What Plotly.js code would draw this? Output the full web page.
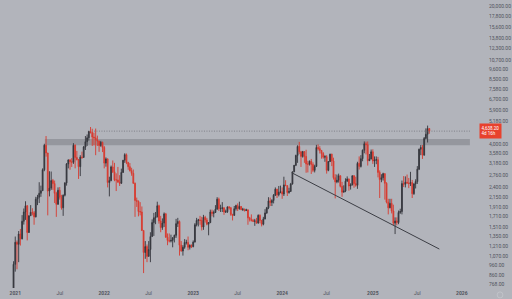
<!DOCTYPE html>
<html><head><meta charset="utf-8">
<script src="https://cdn.plot.ly/plotly-3.0.1.min.js"></script>
<style>html,body{margin:0;padding:0;background:#b2b4bb;}#chart{width:512px;height:299px;}</style>
</head><body><div id="chart"></div>
<script>
// ---- weekly candles (week start Monday), first week = 2020-12-28 ----
const firstWeek = '2020-12-28';
const open2021  = [731,975,1262,1232,1390,1314,1614,1800,1935,1416,1723,1793,1782,1700,2090,2140,2240,2310,2950,3930,3590,2300,2380,2600,2510,2240,1970,2320,2140,1890,2190,2530,3160,3310,3240,3220,3930,3410,3330,3060,3420,3410,3850,4100,4290,4620,4570,4330,4290,4190,4130,3920,4070];
const high2021  = [1011,1350,1290,1440,1475,1735,1875,2040,1950,1725,1950,1880,1820,2150,2200,2550,2450,3000,4000,4380,3600,2900,2890,2650,2600,2280,2400,2410,2200,2210,2550,3190,3330,3340,3380,4030,3970,3680,3340,3500,3650,3900,4380,4460,4660,4868,4770,4550,4780,4400,4150,4140,4100];
const low2021   = [714,895,920,1000,1215,1306,1553,1640,1290,1410,1720,1730,1550,1690,1950,2000,2150,2300,2900,3440,1730,2160,2330,2330,2000,1700,1960,2080,1850,1720,2160,2450,3000,2950,3050,3160,3000,3290,2650,2740,3350,3400,3720,3900,4150,4510,3900,3930,3500,3900,3640,3860,3630];
const close2021 = [975,1262,1232,1390,1314,1614,1800,1935,1416,1723,1793,1782,1700,2090,2140,2240,2310,2950,3930,3590,2300,2380,2600,2510,2240,1970,2320,2140,1890,2190,2530,3160,3310,3240,3220,3930,3410,3330,3060,3420,3410,3850,4100,4290,4620,4570,4330,4290,4190,4130,3920,4070,3830];

const open2022  = [3830,3190,3350,2540,2600,3050,2880,2620,2620,2550,2520,2860,3300,3520,3210,3060,2920,2830,2520,2060,2040,1810,1800,1450,1120,1200,1070,1160,1350,1590,1680,1700,1935,1620,1500,1580,1760,1340,1290,1280,1290,1330,1370,1570,1610,1220,1140,1190,1260,1260,1190,1220];
const high2022  = [3900,3410,3370,2720,3100,3290,3200,2830,3050,2770,2990,3300,3580,3570,3240,3190,3020,2960,2540,2130,2060,2020,1920,1450,1280,1230,1280,1420,1650,1780,1800,2030,1960,1720,1670,1790,1780,1400,1400,1380,1340,1380,1660,1680,1630,1280,1220,1310,1300,1350,1230,1230];
const low2022   = [3000,3060,2400,2160,2580,2840,2580,2300,2570,2440,2500,2850,3200,3150,2950,2890,2750,2500,1700,1910,1710,1730,1440,880,1040,1000,1070,1000,1350,1360,1560,1690,1570,1420,1460,1510,1330,1220,1260,1260,1190,1260,1330,1510,1080,1130,1080,1170,1230,1150,1160,1180];
const close2022 = [3190,3350,2540,2600,3050,2880,2620,2620,2550,2520,2860,3300,3520,3210,3060,2920,2830,2520,2060,2040,1810,1800,1450,1120,1200,1070,1160,1350,1590,1680,1700,1935,1620,1500,1580,1760,1340,1290,1280,1290,1330,1370,1570,1610,1220,1140,1190,1260,1260,1190,1220,1200];

const open2023  = [1200,1265,1550,1630,1640,1630,1510,1690,1640,1560,1590,1800,1770,1790,1860,2090,1870,1875,1890,1800,1805,1910,1890,1750,1730,1870,1940,1870,1920,1850,1860,1830,1845,1680,1650,1630,1615,1620,1580,1730,1630,1560,1660,1780,1890,2050,2010,2060,2190,2350,2200,2270];
const high2023  = [1290,1580,1680,1660,1720,1700,1740,1720,1680,1600,1850,1850,1830,1950,2140,2130,1960,2020,1900,1850,1920,1930,1910,1760,1930,1960,1990,2030,1930,1890,1870,1870,1850,1700,1750,1660,1660,1680,1750,1750,1640,1700,1860,1910,2140,2130,2090,2220,2400,2360,2440,2450];
const low2023   = [1190,1260,1520,1520,1550,1450,1460,1590,1540,1370,1580,1710,1690,1780,1850,1820,1800,1800,1740,1780,1780,1850,1720,1630,1720,1830,1820,1850,1840,1820,1810,1820,1550,1610,1610,1600,1530,1570,1570,1580,1520,1540,1650,1760,1860,1930,1930,1990,2170,2120,2160,2240];
const close2023 = [1265,1550,1630,1640,1630,1510,1690,1640,1560,1590,1800,1770,1790,1860,2090,1870,1875,1890,1800,1805,1910,1890,1750,1730,1870,1940,1870,1920,1850,1860,1830,1845,1680,1650,1630,1615,1620,1580,1730,1630,1560,1660,1780,1890,2050,2010,2060,2190,2350,2200,2270,2280];

const open2024  = [2280,2220,2470,2450,2260,2290,2500,2880,3110,3490,3880,3640,3450,3650,3450,3160,3150,3260,3140,2930,3070,3830,3780,3700,3570,3420,3440,2930,3250,3540,3270,2690,2560,2610,2750,2430,2270,2300,2580,2650,2440,2470,2750,2510,2460,3180,3070,3360,3710,4000,3960,3280,3350];
const high2024  = [2400,2720,2610,2460,2390,2530,2890,3120,3520,3930,4090,3680,3680,3660,3730,3280,3290,3350,3220,3130,3950,3970,3890,3720,3630,3500,3500,3260,3560,3560,3400,2800,2790,2820,2760,2560,2460,2670,2730,2660,2520,2760,2770,2720,3240,3450,3500,3740,4110,4100,4110,3550,3740];
const low2024   = [2100,2170,2440,2170,2230,2280,2480,2870,3080,3200,3540,3050,3400,3200,2850,2860,3100,2810,2870,2860,3050,3700,3570,3360,3360,3240,2820,2900,3230,3080,2630,2110,2520,2540,2400,2150,2260,2270,2570,2310,2340,2460,2390,2420,2360,2960,3030,3260,3580,3530,3100,3270,3330];
const close2024 = [2220,2470,2450,2260,2290,2500,2880,3110,3490,3880,3640,3450,3650,3450,3160,3150,3260,3140,2930,3070,3830,3780,3700,3570,3420,3440,2930,3250,3540,3270,2690,2560,2610,2750,2430,2270,2300,2580,2650,2440,2470,2750,2510,2460,3180,3070,3360,3710,4000,3960,3280,3350,3640];

const open2025  = [3640,3270,3300,3320,2860,2630,2690,2820,2520,2020,1890,1990,1820,1580,1620,1590,1790,1810,2510,2490,2550,2530,2510,2540,2230,2500,2570,2970,3750,3830,3500,4260,4470,4780];
const high2025  = [3750,3450,3450,3430,2930,2800,2850,2830,2550,2100,2100,2100,1960,1690,1690,1830,1870,2600,2740,2730,2790,2680,2880,2620,2520,2640,3080,3780,3940,3940,4330,4790,4950,4800];
const low2025   = [3160,3050,3150,2700,2120,2550,2600,2080,1990,1750,1880,1770,1540,1390,1540,1560,1760,1750,2410,2400,2500,2380,2440,2120,2200,2370,2500,2940,3500,3350,3490,4210,4060,4500];
const close2025 = [3270,3300,3320,2860,2630,2690,2820,2520,2020,1890,1990,1820,1580,1620,1590,1790,1810,2510,2490,2550,2530,2510,2540,2230,2500,2570,2970,3750,3830,3500,4260,4470,4780,4638];

// ---- axis tick labels ----
const xTickDates = ['2021-01-04','2021-07-05','2022-01-03','2022-07-04','2023-01-02','2023-07-03','2024-01-01','2024-07-01','2025-01-06','2025-07-07','2026-01-05'];
const xTickLabels = ['2021','Jul','2022','Jul','2023','Jul','2024','Jul','2025','Jul','2026'];
const yTickValues = [768,860,960,1070,1210,1350,1510,1710,1910,2150,2400,2760,3180,3580,4000,5180,5900,6700,7580,8500,9600,10700,12300,13800,15600,17800,20000];

// ---- drawings ----
const zoneLow = 3930, zoneHigh = 4230, zoneStart = '2021-05-05', zoneEnd = '2026-02-07';
const trendDates = ['2024-02-09','2025-10-05'];
const trendPrices = [2850,1166];
const rayStart = '2021-11-22', rayEnd = '2026-02-07';
const lastPriceLabel = '4,638.20';
const countdownLabel = '4d 16h';

const open = [].concat(open2021,open2022,open2023,open2024,open2025);
const high = [].concat(high2021,high2022,high2023,high2024,high2025);
const low = [].concat(low2021,low2022,low2023,low2024,low2025);
const close = [].concat(close2021,close2022,close2023,close2024,close2025);
const t0 = Date.parse(firstWeek + 'T00:00:00Z');
const dates = open.map((_, i) => new Date(t0 + i * 7 * 86400000).toISOString().slice(0, 10));
const lastClose = close[close.length - 1];

const upC = '#34363c', downC = '#d83a2f', bg = '#b2b4bb';
const fontFam = 'Roboto, "Liberation Sans", Arial, sans-serif';

const traces = [
  {type:'candlestick', x:dates, open:open, high:high, low:low, close:close,
   increasing:{line:{color:upC,width:0.9},fillcolor:upC},
   decreasing:{line:{color:downC,width:0.9},fillcolor:downC},
   whiskerwidth:0, hoverinfo:'skip', showlegend:false},
  {type:'scatter', mode:'lines', x:trendDates, y:trendPrices,
   line:{color:'#3c3e45',width:1}, hoverinfo:'skip', showlegend:false},
  {type:'scatter', mode:'lines', x:[rayStart, rayEnd], y:[lastClose, lastClose],
   line:{color:'#6a6c74',width:0.7,dash:'1px,1.5px'}, hoverinfo:'skip', showlegend:false}
];

const layout = {
  width:512, height:299,
  margin:{l:0, r:36, t:0, b:11},
  paper_bgcolor:bg, plot_bgcolor:bg,
  showlegend:false,
  font:{family:fontFam, size:5, color:'#50535b'},
  xaxis:{type:'date', range:['2020-11-02 14:00','2026-03-04'],
    rangeslider:{visible:false}, showgrid:false, zeroline:false, showline:false,
    ticks:'', tickvals:xTickDates,
    ticktext:xTickLabels.map(t => t === 'Jul' ? t : '<b>' + t + '</b>'),
    tickfont:{size:5, color:'#50535b'}, ticklabelstandoff:1, fixedrange:true},
  yaxis:{type:'log', side:'right', range:[Math.log10(739), Math.log10(21540)],
    showgrid:false, zeroline:false, showline:false, ticks:'',
    tickvals:yTickValues,
    ticktext:yTickValues.map(v => v.toLocaleString('en-US',{minimumFractionDigits:2, maximumFractionDigits:2})),
    tickfont:{size:5, color:'#50535b'}, ticklabelstandoff:12, fixedrange:true},
  shapes:[
    {type:'rect', xref:'x', yref:'y', x0:zoneStart, x1:zoneEnd, y0:zoneLow, y1:zoneHigh,
     fillcolor:'#95979e', line:{width:0}, layer:'below'},
    {type:'circle', xref:'paper', yref:'paper', x0:1.0445, x1:1.0565, y0:-0.0345, y1:-0.0135,
     line:{color:'#c4c6cc', width:0.8}}
  ],
  annotations:[
    {xref:'paper', yref:'y', x:1, y:Math.log10(lastClose), xanchor:'left', yanchor:'middle', xshift:3,
     text:lastPriceLabel + '<br>' + countdownLabel, showarrow:false, align:'left',
     font:{size:4.5, color:'#ffffff', family:fontFam}, bgcolor:'#e8412d', borderpad:1.5}
  ]
};

Plotly.newPlot('chart', traces, layout, {staticPlot:true, displayModeBar:false});
</script>
</body></html>
